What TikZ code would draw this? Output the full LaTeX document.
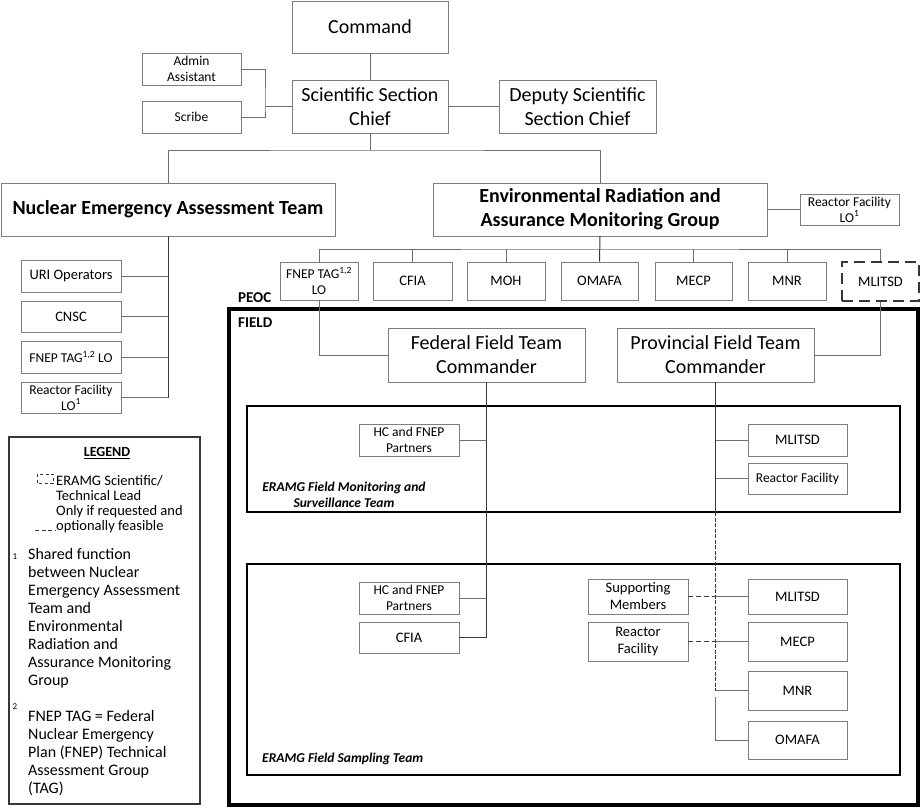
\documentclass[tikz,border=0pt]{standalone}
\usepackage{fontspec}
\setmainfont{Carlito}
\usetikzlibrary{calc}
\definecolor{bgray}{RGB}{125,125,125}
\definecolor{cgray}{RGB}{110,110,110}
\definecolor{dline}{RGB}{55,55,55}
\newcommand\fsz[2]{\fontsize{#1bp}{#2bp}\selectfont}
\newcommand\mybox[7]{\node[box,#6,minimum width={(#4-#2)*1bp},minimum height={(#5-#3)*1bp}] (#1) at ({(#2+#4)/2},{(#3+#5)/2}) {#7};}
\begin{document}
\begin{tikzpicture}[x=1bp,y=-1bp,
  box/.style={draw=bgray,line width=0.9bp,inner sep=1bp,align=center,text=black},
  big/.style={font=\fsz{20}{24}},
  bigb/.style={font=\fsz{20}{24}\bfseries},
  med/.style={font=\fsz{14.5}{17}},
  sml/.style={font=\fsz{13.5}{16}},
  conn/.style={draw=cgray,line width=0.9bp},
  dconn/.style={draw=dline,line width=1bp},
  optdash/.style={draw=dline,line width=1.1bp,dash pattern=on 5bp off 3bp},
  teambox/.style={draw=black,line width=1.3bp},
  legtext/.style={anchor=north west,align=left,inner sep=0pt,text=black}
]
\useasboundingbox (0,0) rectangle (922,809);

% ---- top level
\mybox{cmd}{292}{1}{448}{53}{big}{Command}
\mybox{admin}{142}{53}{241}{85}{sml}{Admin\\Assistant}
\mybox{scribe}{142}{101}{241}{133}{sml}{Scribe}
\mybox{ssc}{292}{80}{448}{133}{big}{Scientific Section\\Chief}
\mybox{deputy}{499}{80}{656}{133}{big}{Deputy Scientific\\Section Chief}
\mybox{neat}{1}{183}{335}{236}{bigb}{Nuclear Emergency Assessment Team}
\mybox{eramg}{433}{183}{767}{236}{bigb}{Environmental Radiation and\\Assurance Monitoring Group}
\mybox{rflo}{800}{194}{899}{225}{sml}{Reactor Facility\\LO\textsuperscript{1}}

% ---- NEAT members
\mybox{uri}{21}{260}{121}{292}{med}{URI Operators}
\mybox{cnsc}{21}{301}{121}{332}{med}{CNSC}
\mybox{fneplo}{21}{341}{121}{373}{sml}{FNEP TAG\textsuperscript{1,2} LO}
\mybox{rflob}{21}{382}{121}{413}{sml}{Reactor Facility\\LO\textsuperscript{1}}

% ---- ERAMG members
\mybox{fnep}{280}{262}{358}{300}{sml}{FNEP TAG\textsuperscript{1,2}\\LO}
\mybox{cfia}{373}{262}{452}{300}{med}{CFIA}
\mybox{moh}{467}{262}{545}{300}{med}{MOH}
\mybox{omafa}{561}{262}{638}{300}{med}{OMAFA}
\mybox{mecp}{655}{262}{732}{300}{med}{MECP}
\mybox{mnr}{748}{262}{826}{300}{med}{MNR}
\mybox{mlitsd}{842}{262}{919}{301}{med,draw=dline,line width=2bp,dash pattern=on 11bp off 6bp}{MLITSD}

% ---- PEOC / FIELD frame
\draw[draw=black,line width=3.2bp] (229,309) rectangle (918,805);
\node[anchor=west,inner sep=0pt,font=\fsz{15}{18}\bfseries] (peoc) at (238,298) {PEOC};
\node[anchor=west,inner sep=0pt,font=\fsz{15}{18}\bfseries] (field) at (238,323) {FIELD};

\mybox{fed}{388}{328}{585}{382}{big}{Federal Field Team\\Commander}
\mybox{prov}{617}{328}{814}{382}{big}{Provincial Field Team\\Commander}

% ---- team boxes
\draw[teambox] (247,406) rectangle (900,512);
\draw[teambox] (247,564) rectangle (900,775);
\node[font=\fsz{13.5}{16}\bfseries\itshape,align=center,inner sep=0pt] (monlab) at (344,495) {ERAMG Field Monitoring and\\Surveillance Team};
\node[font=\fsz{13.5}{16}\bfseries\itshape,anchor=west,inner sep=0pt] (samplab) at (262,759) {ERAMG Field Sampling Team};

\mybox{mhc}{359}{424}{459}{456}{sml}{HC and FNEP\\Partners}
\mybox{mmlitsd}{748}{424}{847}{456}{med}{MLITSD}
\mybox{mrf}{748}{463}{847}{494}{sml}{Reactor Facility}

\mybox{shc}{359}{582}{459}{614}{sml}{HC and FNEP\\Partners}
\mybox{scfia}{359}{622}{459}{653}{med}{CFIA}
\mybox{supp}{588}{579}{688}{614}{med}{Supporting\\Members}
\mybox{srf}{588}{622}{688}{661}{med}{Reactor\\Facility}
\mybox{smlitsd}{748}{579}{847}{614}{med}{MLITSD}
\mybox{smecp}{748}{622}{847}{661}{med}{MECP}
\mybox{smnr}{748}{671}{847}{710}{med}{MNR}
\mybox{somafa}{748}{721}{847}{759}{med}{OMAFA}

% ---- connectors top
\coordinate (j1) at (265,106.5);
\draw[conn] (admin.east) -| (j1) |- (scribe.east);
\draw[conn] (j1) -- (ssc.west);
\draw[conn] (cmd.south) -- (ssc.north);
\draw[conn] (ssc.east) -- (deputy.west);
\coordinate (b1) at (370,150);
\draw[conn] (ssc.south) -- (b1);
\draw[conn] (neat.north) |- (b1) -| (eramg.north);
\draw[conn] (eramg.east) -- (rflo.west);

% NEAT branch
\coordinate (nend) at (168,397.5);
\draw[dconn] (neat.south) -- (nend);
\draw[conn] (uri.east) -- (uri.east -| nend);
\draw[conn] (cnsc.east) -- (cnsc.east -| nend);
\draw[conn] (fneplo.east) -- (fneplo.east -| nend);
\draw[conn] (rflob.east) -- (nend);

% ERAMG bus
\coordinate (bus) at (600,249);
\draw[dconn] (eramg.south) -- (omafa.north);
\draw[conn] (fnep.north) |- (bus) -| (mlitsd.north);
\foreach \n in {cfia,moh,mecp,mnr} \draw[conn] (\n.north) -- (\n.north |- bus);
\draw[conn] (fnep.south) |- (fed.west);
\draw[conn] (mlitsd.south) |- (prov.east);

% Federal branch
\draw[dconn] (fed.south) -- (fed.south |- scfia.east) -- (scfia.east);
\draw[conn] (mhc.east) -- (mhc.east -| fed.south);
\draw[conn] (shc.east) -- (shc.east -| fed.south);

% Provincial branch
\coordinate (p1) at (715.5,512);
\coordinate (p2) at (715.5,690.5);
\coordinate (p3) at (715.5,697);
\draw[dconn] (prov.south) -- (p1);
\draw[dconn,dash pattern=on 4bp off 1.5bp] (p1) -- (p2);
\draw[conn] (p2) -- (smnr.west);
\draw[conn] (p3) |- (somafa.west);
\draw[conn] (mmlitsd.west) -- (mmlitsd.west -| p1);
\draw[conn] (mrf.west) -- (mrf.west -| p1);
\draw[conn] (smlitsd.west) -- (smlitsd.west -| p1);
\draw[conn] (smecp.west) -- (smecp.west -| p1);
\draw[optdash] (supp.east) -- (supp.east -| p1);
\draw[optdash] (srf.east) -- (srf.east -| p1);

% ---- legend
\draw[draw=dline,line width=1.1bp] (9,437) rectangle (200,804);
\node[inner sep=0pt,font=\fsz{14}{16}\bfseries] (leg) at (107,453) {\underline{LEGEND}};
\draw[draw=dline,line width=0.8bp,dash pattern=on 3bp off 2.5bp] (37,474) rectangle (53,483);
\node[legtext,font=\fsz{14.5}{15}] (legA) at (56,475) {ERAMG Scientific/\\Technical Lead\\Only if requested and\\optionally feasible};
\draw[draw=dline,line width=1bp,dash pattern=on 4bp off 2.5bp] (35,530) -- (55,530);
\node[inner sep=0pt,font=\fsz{9}{10}] (n1) at (15,557) {1};
\node[legtext,font=\fsz{16}{18}] (legB) at (28,548) {Shared function\\between Nuclear\\Emergency Assessment\\Team and\\Environmental\\Radiation and\\Assurance Monitoring\\Group};
\node[inner sep=0pt,font=\fsz{9}{10}] (n2) at (15,707) {2};
\node[legtext,font=\fsz{16}{18}] (legC) at (28,710) {FNEP TAG = Federal\\Nuclear Emergency\\Plan (FNEP) Technical\\Assessment Group\\(TAG)};
\end{tikzpicture}
\end{document}
